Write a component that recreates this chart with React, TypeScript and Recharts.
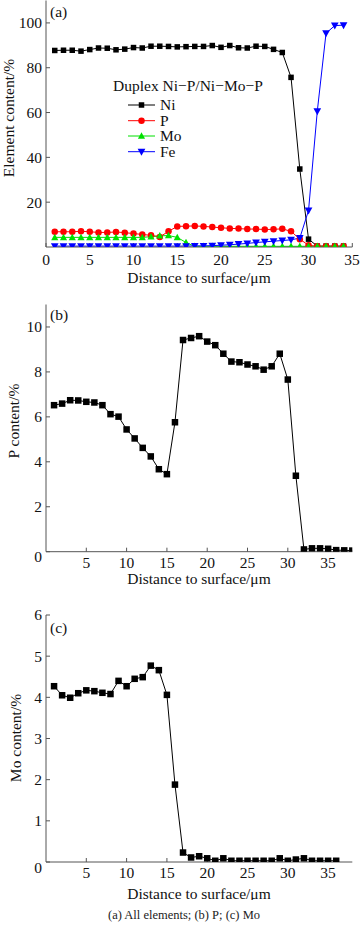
import React from 'react';
import { LineChart, Line, XAxis, YAxis, Legend } from 'recharts';

const FONT = '"Liberation Serif", "Times New Roman", serif';

// (a) all elements
const distA = [1, 2, 3, 4, 5, 6, 7, 8, 9, 10, 11, 12, 13, 14, 15, 16, 17, 18, 19, 20, 21, 22, 23, 24, 25, 26, 27, 28, 29, 30, 31, 32, 33, 34];
const niA = [87.7, 87.8, 87.8, 87.4, 88.1, 88.8, 88.7, 88.0, 88.3, 89.0, 88.8, 89.6, 89.6, 89.5, 89.3, 89.4, 89.5, 89.5, 89.9, 89.1, 89.9, 88.9, 88.8, 89.6, 89.5, 88.2, 86.8, 75.7, 34.8, 3.5, 0.4, 0.4, 0.4, 0.4];
const pA = [6.8, 6.8, 6.8, 7.0, 6.8, 6.5, 6.5, 6.7, 6.4, 6.0, 5.6, 5.2, 4.5, 7.0, 9.2, 9.3, 9.4, 9.2, 8.9, 8.6, 8.3, 8.2, 8.0, 8.0, 7.8, 7.9, 8.1, 7.0, 3.5, 0.8, 0.3, 0.3, 0.3, 0.3];
const moA = [4.3, 4.3, 4.3, 4.3, 4.3, 4.3, 4.3, 4.3, 4.3, 4.3, 4.3, 4.6, 5.0, 5.1, 4.3, 2.0, 0.3, 0.3, 0.3, 0.3, 0.3, 0.3, 0.3, 0.3, 0.3, 0.3, 0.3, 0.3, 0.3, 0.3, 0.3, 0.3, 0.3, 0.3];
const feA = [0.4, 0.4, 0.4, 0.4, 0.4, 0.4, 0.4, 0.4, 0.4, 0.4, 0.4, 0.4, 0.4, 0.4, 0.4, 0.4, 0.5, 0.5, 0.6, 0.8, 1.0, 1.3, 1.6, 2.0, 2.3, 2.6, 2.9, 3.2, 4.0, 16.3, 60.6, 95.4, 98.8, 99.0];
const xTicksA = [0, 5, 10, 15, 20, 25, 30, 35];
const yTicksA = [20, 40, 60, 80, 100];

// (b) P
const distB = [1, 2, 3, 4, 5, 6, 7, 8, 9, 10, 11, 12, 13, 14, 15, 16, 17, 18, 19, 20, 21, 22, 23, 24, 25, 26, 27, 28, 29, 30, 31, 32, 33, 34, 35, 36, 37, 38];
const pB = [6.52, 6.59, 6.74, 6.73, 6.67, 6.64, 6.52, 6.12, 6.01, 5.44, 5.04, 4.62, 4.24, 3.67, 3.45, 5.76, 9.42, 9.51, 9.59, 9.35, 9.19, 8.81, 8.46, 8.43, 8.33, 8.25, 8.1, 8.25, 8.81, 7.66, 3.38, 0.1, 0.15, 0.15, 0.13, 0.07, 0.06, 0.05];
const xTicksB = [5, 10, 15, 20, 25, 30, 35];
const yTicksB = [0, 2, 4, 6, 8, 10];

// (c) Mo
const distC = [1, 2, 3, 4, 5, 6, 7, 8, 9, 10, 11, 12, 13, 14, 15, 16, 17, 18, 19, 20, 21, 22, 23, 24, 25, 26, 27, 28, 29, 30, 31, 32, 33, 34, 35, 36];
const moC = [4.27, 4.05, 3.99, 4.1, 4.17, 4.15, 4.11, 4.08, 4.4, 4.27, 4.45, 4.49, 4.77, 4.66, 4.06, 1.88, 0.23, 0.11, 0.14, 0.09, 0.03, 0.09, 0.03, 0.03, 0.03, 0.03, 0.03, 0.03, 0.09, 0.03, 0.06, 0.09, 0.03, 0.03, 0.03, 0.03];
const xTicksC = [5, 10, 15, 20, 25, 30, 35];
const yTicksC = [0, 1, 2, 3, 4, 5, 6];

const seriesA = [
  { key: 'ni', name: 'Ni', color: '#000000', shape: 'square', size: 5.5 },
  { key: 'p', name: 'P', color: '#ff0000', shape: 'circle', size: 6.5 },
  { key: 'mo', name: 'Mo', color: '#00e000', shape: 'up', size: 6.5 },
  { key: 'fe', name: 'Fe', color: '#0000ff', shape: 'down', size: 7 },
];

const dataA = distA.map((x, i) => ({ x, ni: niA[i], p: pA[i], mo: moA[i], fe: feA[i] }));
const dataB = distB.map((x, i) => ({ x, v: pB[i] }));
const dataC = distC.map((x, i) => ({ x, v: moC[i] }));

const axisStroke = '#555';
const FS = 15.5;
const textStyle: React.CSSProperties = { fontFamily: FONT, fontSize: FS, fill: '#111' };

function Marker({ cx, cy, shape, color, size }: any) {
  if (cx == null || cy == null) return null;
  const s = size / 2;
  if (shape === 'square') return <rect x={cx - s} y={cy - s} width={size} height={size} fill={color} />;
  if (shape === 'circle') return <circle cx={cx} cy={cy} r={s} fill={color} />;
  if (shape === 'up')
    return <polygon points={`${cx},${cy - s * 1.15} ${cx - s * 1.1},${cy + s * 0.85} ${cx + s * 1.1},${cy + s * 0.85}`} fill={color} />;
  return <polygon points={`${cx},${cy + s * 1.15} ${cx - s * 1.1},${cy - s * 0.85} ${cx + s * 1.1},${cy - s * 0.85}`} fill={color} />;
}

function dotFor(id: string, shape: string, color: string, size: number) {
  return (p: any) => <Marker key={`${id}-${p.index}`} cx={p.cx} cy={p.cy} shape={shape} color={color} size={size} />;
}

// axis titles drawn at fixed spots in the chart svg
function AxisText({ px, py, text, vertical }: any) {
  return (
    <text
      transform={`translate(${px},${py})${vertical ? ' rotate(-90)' : ''}`}
      textAnchor="middle"
      dominantBaseline="central"
      fontFamily={FONT}
      fontSize={FS}
      fill="#111"
      style={textStyle}
    >
      {text}
    </text>
  );
}

function XTick({ x, y, payload }: any) {
  return (
    <text x={x} y={y} dy="0.72em" textAnchor="middle" fontFamily={FONT} fontSize={FS} fill="#111" style={textStyle}>
      {payload.value}
    </text>
  );
}

function YTick({ x, y, payload, zeroShift }: any) {
  const dy = payload.value === 0 ? zeroShift || 0 : 0;
  return (
    <text x={x} y={y + dy} dy="0.35em" textAnchor="end" fontFamily={FONT} fontSize={FS} fill="#111" style={textStyle}>
      {payload.value}
    </text>
  );
}

function LegendA() {
  const rowY = [35, 50.7, 66, 81.7];
  return (
    <svg width={200} height={95} style={{ overflow: 'visible', display: 'block' }}>
      <text x={0} y={16} dy="0.35em" style={textStyle}>
        Duplex Ni−P/Ni−Mo−P
      </text>
      {seriesA.map((s, i) => (
        <g key={s.key}>
          <line x1={15} x2={42} y1={rowY[i]} y2={rowY[i]} stroke={s.color} strokeWidth={1} />
          <Marker cx={28.5} cy={rowY[i]} shape={s.shape} color={s.color} size={s.size} />
          <text x={47} y={rowY[i]} dy="0.35em" style={textStyle}>
            {s.name}
          </text>
        </g>
      ))}
    </svg>
  );
}

const tagStyle: React.CSSProperties = { position: 'absolute', left: 50, fontFamily: FONT, fontSize: FS, color: '#111', lineHeight: '18px' };

export default function App() {
  return (
    <div style={{ position: 'absolute', left: 0, top: 0, width: 360, height: 926, background: '#fff', overflow: 'hidden' }}>
      {/* (a) */}
      <div style={{ position: 'absolute', left: 0, top: 0 }}>
        <LineChart width={360} height={292} data={dataA} margin={{ top: 0.5, right: 7.7, left: 0, bottom: 0 }}>
          <XAxis
            type="number"
            dataKey="x"
            domain={[0, 35]}
            ticks={xTicksA}
            allowDataOverflow
            stroke={axisStroke}
            tickSize={-4}
            tickMargin={11}
            tick={<XTick />}
            height={45}
            label={<AxisText px={199} py={277} text="Distance to surface/μm" />}
          />
          <XAxis xAxisId="top" orientation="top" type="number" domain={[0, 35]} height={0} tick={false} tickLine={false} stroke={axisStroke} />
          <YAxis
            type="number"
            domain={[0, 110]}
            ticks={yTicksA}
            allowDataOverflow
            stroke={axisStroke}
            tickSize={-4}
            tickMargin={8}
            tick={<YTick />}
            width={46}
            label={<AxisText px={8} py={118} text="Element content/%" vertical />}
          />
          <YAxis yAxisId="right" orientation="right" type="number" domain={[0, 110]} width={0} tick={false} tickLine={false} stroke={axisStroke} />
          <Legend layout="vertical" align="center" verticalAlign="middle" wrapperStyle={{ left: 113, top: 70, width: 200 }} content={() => <LegendA />} />
          {seriesA.map((s) => (
            <Line
              key={s.key}
              dataKey={s.key}
              name={s.name}
              stroke={s.color}
              strokeWidth={1}
              dot={dotFor(s.key, s.shape, s.color, s.size)}
              activeDot={false}
              isAnimationActive={false}
            />
          ))}
        </LineChart>
      </div>
      <div style={{ ...tagStyle, top: 3 }}>(a)</div>

      {/* (b) */}
      <div style={{ position: 'absolute', left: 0, top: 300 }}>
        <LineChart width={360} height={292} data={dataB} margin={{ top: 4.5, right: 7.7, left: 0, bottom: 0 }}>
          <XAxis
            type="number"
            dataKey="x"
            domain={[0, 38]}
            ticks={xTicksB}
            allowDataOverflow
            stroke={axisStroke}
            tickSize={-4}
            tickMargin={9}
            tick={<XTick />}
            height={40.3}
            label={<AxisText px={199} py={278} text="Distance to surface/μm" />}
          />
          <XAxis xAxisId="top" orientation="top" type="number" domain={[0, 38]} height={0} tick={false} tickLine={false} stroke={axisStroke} />
          <YAxis
            type="number"
            domain={[0, 11]}
            ticks={yTicksB}
            allowDataOverflow
            stroke={axisStroke}
            tickSize={-4}
            tickMargin={8}
            tick={<YTick zeroShift={5} />}
            width={46}
            label={<AxisText px={13} py={121} text="P content/%" vertical />}
          />
          <YAxis yAxisId="right" orientation="right" type="number" domain={[0, 11]} width={0} tick={false} tickLine={false} stroke={axisStroke} />
          <Line dataKey="v" stroke="#000" strokeWidth={1} dot={dotFor('pb', 'square', '#000', 6.5)} activeDot={false} isAnimationActive={false} />
        </LineChart>
      </div>
      <div style={{ ...tagStyle, top: 306 }}>(b)</div>

      {/* (c) */}
      <div style={{ position: 'absolute', left: 0, top: 600 }}>
        <LineChart width={360} height={300} data={dataC} margin={{ top: 15, right: 7.7, left: 0, bottom: 0 }}>
          <XAxis
            type="number"
            dataKey="x"
            domain={[0, 38]}
            ticks={xTicksC}
            allowDataOverflow
            stroke={axisStroke}
            tickSize={-4}
            tickMargin={9}
            tick={<XTick />}
            height={38}
            label={<AxisText px={199} py={293} text="Distance to surface/μm" />}
          />
          <XAxis xAxisId="top" orientation="top" type="number" domain={[0, 38]} height={0} tick={false} tickLine={false} stroke={axisStroke} />
          <YAxis
            type="number"
            domain={[0, 6]}
            ticks={yTicksC}
            allowDataOverflow
            stroke={axisStroke}
            tickSize={-4}
            tickMargin={8}
            tick={<YTick zeroShift={6} />}
            width={46}
            label={<AxisText px={15} py={138} text="Mo content/%" vertical />}
          />
          <YAxis yAxisId="right" orientation="right" type="number" domain={[0, 6]} width={0} tick={false} tickLine={false} stroke={axisStroke} />
          <Line dataKey="v" stroke="#000" strokeWidth={1} dot={dotFor('moc', 'square', '#000', 6.5)} activeDot={false} isAnimationActive={false} />
        </LineChart>
      </div>
      <div style={{ ...tagStyle, top: 619 }}>(c)</div>

      <div
        style={{
          position: 'absolute',
          left: 0,
          width: 368,
          top: 907,
          textAlign: 'center',
          fontFamily: FONT,
          fontSize: 12.5,
          color: '#222',
          lineHeight: '16px',
        }}
      >
        (a) All elements; (b) P; (c) Mo
      </div>
    </div>
  );
}
